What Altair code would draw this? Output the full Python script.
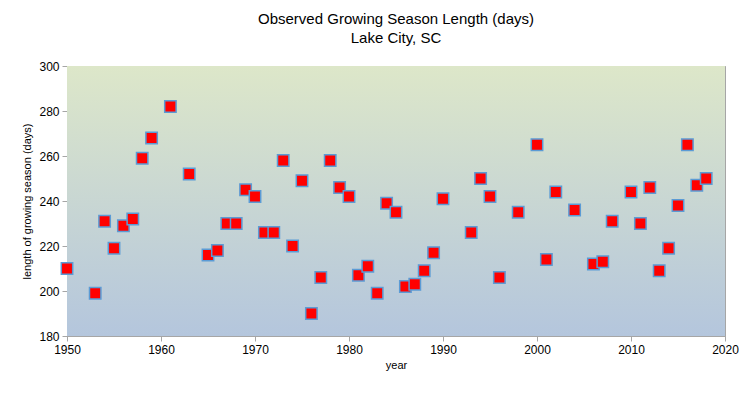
import altair as alt
import pandas as pd

years = [1950, 1953, 1954, 1955, 1956, 1957, 1958, 1959, 1961, 1963, 1965, 1966, 1967, 1968,
         1969, 1970, 1971, 1972, 1973, 1974, 1975, 1976, 1977, 1978, 1979, 1980, 1981, 1982,
         1983, 1984, 1985, 1986, 1987, 1988, 1989, 1990, 1993, 1994, 1995, 1996, 1998, 2000,
         2001, 2002, 2004, 2006, 2007, 2008, 2010, 2011, 2012, 2013, 2014, 2015, 2016, 2017, 2018]
days = [210, 199, 231, 219, 229, 232, 259, 268, 282, 252, 216, 218, 230, 230,
        245, 242, 226, 226, 258, 220, 249, 190, 206, 258, 246, 242, 207, 211,
        199, 239, 235, 202, 203, 209, 217, 241, 226, 250, 242, 206, 235, 265,
        214, 244, 236, 212, 213, 231, 244, 230, 246, 209, 219, 238, 265, 247, 250]

df = pd.DataFrame({"year": years, "days": days})

W, H = 658, 270
FONT = "Liberation Sans"

bg = alt.Chart(pd.DataFrame({"a": [0]})).mark_rect(
    fill={"gradient": "linear", "x1": 0, "y1": 0, "x2": 0, "y2": 1,
          "stops": [{"offset": 0, "color": "#dde7c9"}, {"offset": 1, "color": "#b4c6dd"}]}
).encode(x=alt.value(0), x2=alt.value(W), y=alt.value(0), y2=alt.value(H))

pts = alt.Chart(df).mark_square(
    size=130, color="#ff0000", fill="#ff0000", stroke="#5b9bd5", strokeWidth=1.5, opacity=1
).encode(
    x=alt.X("year:Q", scale=alt.Scale(domain=[1950, 2020], nice=False, zero=False),
            axis=alt.Axis(title="year", values=list(range(1950, 2021, 10)), format="d",
                          grid=False, tickSize=5, tickColor="#a6a6a6", domainColor="#a6a6a6",
                          labelFontSize=12, titleFontSize=11, labelColor="#000000",
                          titleColor="#000000", titleFontWeight="normal", labelPadding=3,
                          titlePadding=4, labelFlush=False, labelOverlap=False)),
    y=alt.Y("days:Q", scale=alt.Scale(domain=[180, 300], nice=False, zero=False),
            axis=alt.Axis(title="length of growing season (days)", values=list(range(180, 301, 20)),
                          grid=True, gridColor="#a6a6a6", tickSize=5, tickColor="#a6a6a6",
                          domainColor="#a6a6a6", labelFontSize=12, titleFontSize=11,
                          labelColor="#000000", titleColor="#000000", titleFontWeight="normal",
                          labelPadding=3, titlePadding=6, labelFlush=False, labelOverlap=False)),
)

chart = alt.layer(bg, pts).properties(
    width=W, height=H,
    title=alt.Title(["Observed  Growing  Season  Length  (days)", "Lake City, SC"],
                    fontSize=15, font=FONT, fontWeight="normal", color="#000000",
                    anchor="middle", offset=14, lineHeight=19),
    autosize=alt.AutoSizeParams(type="none"),
    padding={"left": 59, "top": 58, "right": 22, "bottom": 51},
).configure(font=FONT).configure_view(stroke="#a6a6a6", strokeWidth=1).configure_axis(
    labelFont=FONT, titleFont=FONT
)

chart.save("out.html", embed_options={"renderer": "svg", "actions": False})
